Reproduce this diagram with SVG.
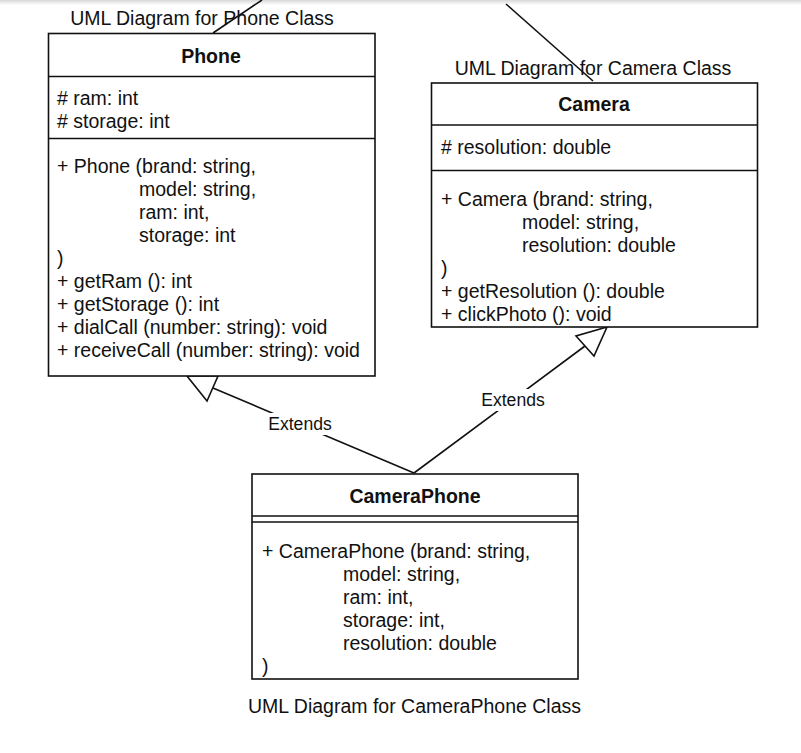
<svg xmlns="http://www.w3.org/2000/svg" width="801" height="753" viewBox="0 0 801 753">
<defs>
<linearGradient id="topShade" x1="0" y1="0" x2="0" y2="1">
<stop offset="0" stop-color="#d8d8d8"/>
<stop offset="1" stop-color="#ffffff"/>
</linearGradient>
<style>
text{font-family:"Liberation Sans",Arial,sans-serif;font-size:19.5px;fill:#111}
.b{font-weight:bold}
.m{text-anchor:middle}
.box{fill:#fff;stroke:#111;stroke-width:1.6}
.sep{stroke:#111;stroke-width:1.6}
.con{stroke:#111;stroke-width:1.6;fill:none}
.tri{stroke:#111;stroke-width:1.6;fill:#fff}
.lbl{font-size:17.6px}
</style>
</defs>
<rect width="801" height="753" fill="#fff"/>
<rect width="801" height="5" fill="url(#topShade)"/>

<g id="connectors">
<line class="con" x1="262" y1="0" x2="213" y2="33"/>
<line class="con" x1="506" y1="4" x2="593" y2="81"/>
<line class="con" x1="414" y1="473" x2="213" y2="388"/>
<polygon class="tri" points="187,376 218,376 207,401"/>
<line class="con" x1="414" y1="473" x2="585" y2="346"/>
<polygon class="tri" points="607,327 576,336 594,356"/>
<rect x="266" y="413" width="68" height="22" fill="#fff"/>
<text class="lbl m" x="300" y="430">Extends</text>
<rect x="479" y="389" width="68" height="22" fill="#fff"/>
<text class="lbl m" x="513" y="406">Extends</text>
</g>

<g id="phone">
<text class="m" x="202" y="25">UML Diagram for Phone Class</text>
<rect class="box" x="48.5" y="33.5" width="326.5" height="342.5"/>
<line class="sep" x1="48.5" y1="76.5" x2="375" y2="76.5"/>
<line class="sep" x1="48.5" y1="138.5" x2="375" y2="138.5"/>
<text class="b m" x="211" y="63">Phone</text>
<text x="57" y="105"># ram: int</text>
<text x="57" y="128"># storage: int</text>
<text x="57" y="173">+ Phone (brand: string,</text>
<text x="139" y="196">model: string,</text>
<text x="139" y="219">ram: int,</text>
<text x="139" y="242">storage: int</text>
<text x="57" y="265">)</text>
<text x="57" y="288">+ getRam (): int</text>
<text x="57" y="311">+ getStorage (): int</text>
<text x="57" y="334">+ dialCall (number: string): void</text>
<text x="57" y="357">+ receiveCall (number: string): void</text>
</g>

<g id="camera">
<text class="m" x="593" y="75">UML Diagram for Camera Class</text>
<rect class="box" x="431.5" y="83" width="326" height="244"/>
<line class="sep" x1="431.5" y1="125" x2="757.5" y2="125"/>
<line class="sep" x1="431.5" y1="170.5" x2="757.5" y2="170.5"/>
<text class="b m" x="594" y="111">Camera</text>
<text x="441" y="154"># resolution: double</text>
<text x="441" y="206">+ Camera (brand: string,</text>
<text x="522" y="229">model: string,</text>
<text x="522" y="252">resolution: double</text>
<text x="441" y="275">)</text>
<text x="441" y="298">+ getResolution (): double</text>
<text x="441" y="321">+ clickPhoto (): void</text>
</g>

<g id="cameraphone">
<rect class="box" x="252" y="474" width="326" height="205"/>
<line class="sep" x1="252" y1="516" x2="578" y2="516"/>
<line class="sep" x1="252" y1="522" x2="578" y2="522"/>
<text class="b m" x="415" y="503">CameraPhone</text>
<text x="262" y="558">+ CameraPhone (brand: string,</text>
<text x="343" y="581">model: string,</text>
<text x="343" y="604">ram: int,</text>
<text x="343" y="627">storage: int,</text>
<text x="343" y="650">resolution: double</text>
<text x="262" y="673">)</text>
<text class="m" x="414.5" y="713">UML Diagram for CameraPhone Class</text>
</g>
</svg>
